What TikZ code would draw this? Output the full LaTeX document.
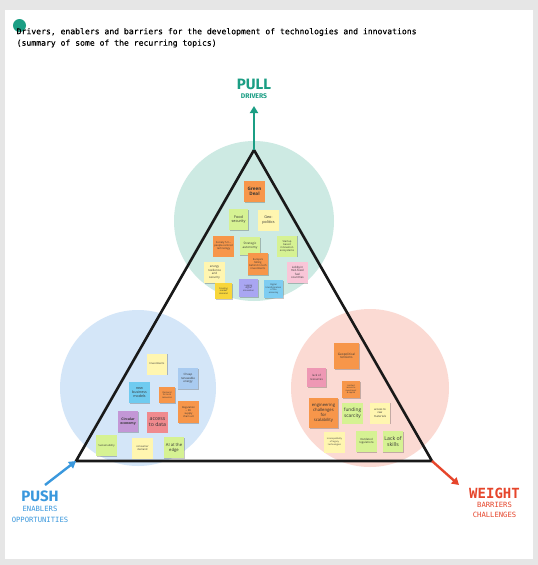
\documentclass[tikz,border=0pt]{standalone}
\usepackage{fontspec}
\usetikzlibrary{arrows.meta,shadows}
\newfontfamily\stickyfont{Open Sans}
\newfontfamily\labelsans{Fira Sans}
\newfontfamily\monofont{DejaVu Sans Mono}
\newfontfamily\titlemono[FakeBold=0.4]{DejaVu Sans Mono}
\newcommand{\stfs}[1]{\fontsize{#1}{#1}\selectfont\setlength\baselineskip{1.18\baselineskip}}
\definecolor{bggray}{HTML}{E6E6E6}
\definecolor{tealc}{HTML}{CDEAE3}
\definecolor{bluec}{HTML}{D4E6F8}
\definecolor{pinkc}{HTML}{FBDAD3}
\definecolor{tealdark}{HTML}{1B9E84}
\definecolor{bluedark}{HTML}{3A98DD}
\definecolor{reddark}{HTML}{E6452B}
\definecolor{sOrange}{HTML}{F7964A}
\definecolor{sLime}{HTML}{D6F293}
\definecolor{sLYellow}{HTML}{FFF6B0}
\definecolor{sYellow}{HTML}{F8D63A}
\definecolor{sPink}{HTML}{F9C6D8}
\definecolor{sRose}{HTML}{EE98B4}
\definecolor{sRed}{HTML}{F08A8E}
\definecolor{sViolet}{HTML}{A9A6F2}
\definecolor{sPurple}{HTML}{C397D6}
\definecolor{sSky}{HTML}{7ECDF2}
\definecolor{sCyan}{HTML}{6FCBF0}
\definecolor{sGBlue}{HTML}{A9CBF0}
\tikzset{
  sticky/.style={rectangle, inner sep=0.4pt, minimum width=20.5pt, minimum height=21pt,
    align=center, text=black!80, font=\stickyfont\stfs{2.6},
    drop shadow={shadow xshift=0.5pt, shadow yshift=-0.9pt, opacity=0.22, fill=black}},
  fs/.style={font=\stickyfont\stfs{#1}},
  fsb/.style={font=\stickyfont\bfseries\stfs{#1}},
  tri/.style={draw=black!90, line width=2.6pt, line join=miter},
  driver/.style={line width=2.4pt, -{Triangle[length=7pt,width=8pt]}},
  bigsans/.style={font=\labelsans\bfseries\fontsize{15}{16}\selectfont},
  smallsans/.style={font=\labelsans\bfseries\fontsize{6.8}{8}\selectfont},
  bigmono/.style={font=\monofont\bfseries\fontsize{14}{16}\selectfont},
  smallmono/.style={font=\monofont\fontsize{7.2}{8.5}\selectfont},
  titletext/.style={font=\titlemono\fontsize{8.1}{10}\selectfont, anchor=west, inner sep=0pt, text=black}
}
\begin{document}
\begin{tikzpicture}[x=1pt,y=-1pt]
\useasboundingbox (0,0) rectangle (538,565);
\fill[bggray] (0,0) rectangle (538,565);
\fill[white] (5,10) rectangle (533,559);

% title
\fill[tealdark] (19.5,25.5) circle (6.5);
\node[titletext] (t1) at (16.5,32) {Drivers, enablers and barriers for the development of technologies and innovations};
\node[titletext] (t2) at (16.5,43.5) {(summary of some of the recurring topics)};

% zones
\fill[tealc] (254,221) circle (80);
\fill[bluec] (138,388) circle (78);
\fill[pinkc] (370,388) circle (79);

% triangle
\coordinate (apex) at (254,150);
\coordinate (bl) at (76,461);
\coordinate (br) at (432,461);
\draw[tri] (apex) -- (bl) -- (br) -- cycle;

% arrows and labels
\coordinate (pulltip) at (254,106);
\coordinate (pushtail) at (45,485);
\coordinate (weighttip) at (459,485);
\draw[driver, tealdark] (apex) -- (pulltip);
\draw[driver, bluedark] (pushtail) -- (bl);
\draw[driver, reddark] (br) -- (weighttip);

\node[bigsans, text=tealdark] (pull) at (254,84.5) {PULL};
\node[smallsans, text=tealdark] (drivers) at (254,96.5) {DRIVERS};
\node[bigsans, text=bluedark] (push) at (40,496) {PUSH};
\node[smallmono, text=bluedark] (enab) at (40,509) {ENABLERS};
\node[smallmono, text=bluedark] (opp) at (40,519.5) {OPPORTUNITIES};
\node[bigmono, text=reddark] (weight) at (494.5,493) {WEIGHT};
\node[smallmono, text=reddark] (barr) at (494.5,504.5) {BARRIERS};
\node[smallmono, text=reddark] (chal) at (494.5,514.5) {CHALLENGES};

% top cluster: drivers
\node[sticky, fill=sOrange, fsb=4.6] (gd) at (254.5,191.5) {Green\\Deal};
\node[sticky, fill=sLime, fs=3.8, minimum width=19pt] (food) at (238.5,219.5) {Food\\security};
\node[sticky, fill=sLYellow, fs=3.8] (geo) at (268.5,220) {Geo-\\politics};
\node[sticky, fill=sOrange] (soc) at (223.5,246) {Society 5.0 --\\people-centred\\technology};
\node[sticky, fill=sLime, fs=3.1, minimum height=18pt] (strat) at (250,246) {Strategic\\autonomy};
\node[sticky, fill=sLime] (start) at (287,246) {Startup\\based\\innovation\\ecosystems};
\node[sticky, fill=sOrange, minimum height=22pt] (eur) at (258,264) {Europe's\\falling\\behind in tech\\investments};
\node[sticky, fill=sLYellow, fs=2.9] (ener) at (214.5,272.5) {energy\\resilience\\and\\security};
\node[sticky, fill=sPink, fs=2.9] (lobby) at (297.5,272.5) {Lobby in\\mid-fossil\\fuel\\countries};
\node[sticky, fill=sYellow, fs=2.2, minimum width=17pt, minimum height=16pt] (incl) at (223.5,291) {Creating\\market\\demand};
\node[sticky, fill=sViolet, fs=2.2, minimum width=19pt, minimum height=18pt] (lag) at (248.5,288) {Lagging\\digital\\innovation};
\node[sticky, fill=sSky, fs=2.2, minimum width=19pt, minimum height=18pt] (dig) at (273.5,289) {Digital\\transformation\\of the\\economy};

% left cluster: enablers
\node[sticky, fill=sLYellow] (inv) at (157,364) {Investments};
\node[sticky, fill=sGBlue, fs=2.9] (cheap) at (188,378.5) {Cheap\\renewable\\energy};
\node[sticky, fill=sCyan, fs=3.6] (nbm) at (139.5,392.5) {new\\business\\models};
\node[sticky, fill=sOrange, fs=2.2, minimum width=16pt, minimum height=16pt] (dem) at (167,395) {Demand\\for local\\resources};
\node[sticky, fill=sOrange, fs=2.6, minimum height=22pt] (reg) at (188.5,412) {Regulation\\-- EU\\supply\\chain act};
\node[sticky, fill=sPurple, fsb=3.4] (circ) at (128,421.5) {Circular\\economy};
\node[sticky, fill=sRed, fs=5.2] (acc) at (157.5,422) {access\\to data};
\node[sticky, fill=sLime] (sust) at (106.5,445.5) {Sustainability};
\node[sticky, fill=sLYellow] (cons) at (142.5,448) {consumer\\demand};
\node[sticky, fill=sLime, fs=4.2] (ai) at (174,447.5) {AI at the\\edge};

% right cluster: barriers
\node[sticky, fill=sOrange, fs=3.1, minimum width=25pt, minimum height=26pt] (geot) at (346.5,356) {Geopolitical\\tensions};
\node[sticky, fill=sRose, fs=2.8, minimum width=19pt, minimum height=19pt] (lack) at (316.5,377.5) {lack of\\resources};
\node[sticky, fill=sOrange, fs=2.1, minimum width=18pt, minimum height=17pt] (limit) at (351,389.5) {Limited\\access to\\investment\\\& capital};
\node[sticky, fill=sOrange, fs=4.2, minimum width=29pt, minimum height=30pt] (eng) at (323.5,413) {engineering\\challenges\\for\\scalability};
\node[sticky, fill=sLime, fs=4.8] (fund) at (352.5,413) {funding\\scarcity};
\node[sticky, fill=sLYellow, fs=2.8] (raw) at (380,413) {access to\\raw\\materials};
\node[sticky, fill=sLYellow, fs=2.2] (incomp) at (334.5,442) {Incompatibility\\of legacy\\technologies};
\node[sticky, fill=sLime, fs=2.8] (outd) at (366.5,441.5) {Outdated\\regulations};
\node[sticky, fill=sLime, fs=5.2] (skills) at (393,441.5) {Lack of\\skills};
\end{tikzpicture}
\end{document}
